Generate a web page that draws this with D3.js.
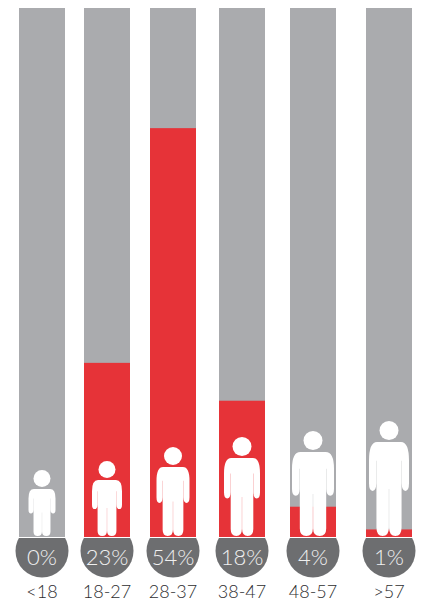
<!DOCTYPE html>
<html>
<head>
<meta charset="utf-8">
<script src="https://d3js.org/d3.v7.min.js"></script>
<style>
  html, body { margin: 0; padding: 0; background: #fff; }
  svg { display: block; }
  text { font-family: "Lato", sans-serif; font-weight: 300; text-anchor: middle; }
</style>
</head>
<body>
<div id="vis"></div>
<script>
// age groups and their share in percent
const ages = ['<18', '18-27', '28-37', '38-47', '48-57', '>57'];
const shares = [0, 23, 54, 18, 4, 1];

const width = 422, height = 601;
const barWidth = 46;
const barTop = 8;

const svg = d3.select('#vis').append('svg')
  .attr('width', width)
  .attr('height', height);

// the bars are not evenly spaced in the original so the x scale is ordinal
const x = d3.scaleOrdinal().domain(ages).range([19, 84, 150, 219, 290, 366]);
const y = d3.scaleLinear().domain([0, 70]).range([537, 7]);

// figure sizes grow with the age group
const figHeight = d3.scaleOrdinal().domain(ages).range([66, 75, 89, 99, 105, 115]);
const figWidth = d3.scaleOrdinal().domain(ages).range([27, 30, 33, 36, 42, 40]);
const headSize = d3.scaleOrdinal().domain(ages).range([17, 17, 18, 19, 19, 19]);

// body glyph in a 100x100 box, shoulders to feet
const bodyPath = 'M20 0H80Q100 0 100 20V44Q100 52 91 52Q82 52 82 44V20H81.4V91Q81.4 100 66 100Q50.3 100 50.3 91V50H49.7V91Q49.7 100 34 100Q18.6 100 18.6 91V20H18V44Q18 52 9 52Q0 52 0 44V20Q0 0 20 0Z';

const cols = svg.selectAll('g.col')
  .data(ages.map((age, i) => ({ age, share: shares[i] })))
  .join('g')
  .attr('class', 'col');

cols.append('rect')
  .attr('x', d => x(d.age))
  .attr('y', barTop)
  .attr('width', barWidth)
  .attr('height', y(0) - barTop)
  .attr('fill', '#aaabae');

cols.append('rect')
  .attr('x', d => x(d.age))
  .attr('y', d => y(d.share))
  .attr('width', barWidth)
  .attr('height', d => y(0) - y(d.share))
  .attr('fill', '#e63338');

// people
const feet = y(0) - 1;
const person = cols.append('g')
  .attr('transform', d => `translate(${x(d.age) + barWidth / 2},${feet})`);

person.append('circle')
  .attr('cx', 0)
  .attr('cy', d => -figHeight(d.age) + headSize(d.age) / 2)
  .attr('r', d => headSize(d.age) / 2)
  .attr('fill', '#fff');

person.append('path')
  .attr('d', bodyPath)
  .attr('fill', '#fff')
  .attr('transform', d => {
    const bodyH = figHeight(d.age) - headSize(d.age) - 2;
    return `translate(${-figWidth(d.age) / 2},${-bodyH}) scale(${figWidth(d.age) / 100},${bodyH / 100})`;
  });

// badges, circles cut off flat just under the bar
const clip = svg.append('defs').append('clipPath').attr('id', 'badge-clip');
clip.append('rect')
  .attr('x', 0)
  .attr('y', y(0) + 1)
  .attr('width', width)
  .attr('height', height);

cols.append('circle')
  .attr('cx', d => x(d.age) + barWidth / 2)
  .attr('cy', y(0) + 14)
  .attr('r', 26.5)
  .attr('fill', '#6d6e70')
  .attr('clip-path', 'url(#badge-clip)');

cols.append('text')
  .attr('x', d => x(d.age) + barWidth / 2)
  .attr('y', 565)
  .style('font-size', '22px')
  .attr('fill', '#f0f0f0')
  .text(d => d.share + '%');

cols.append('text')
  .attr('x', d => x(d.age) + barWidth / 2)
  .attr('y', 598)
  .style('font-size', '18px')
  .attr('fill', '#2e2e30')
  .text(d => d.age);
</script>
</body>
</html>
